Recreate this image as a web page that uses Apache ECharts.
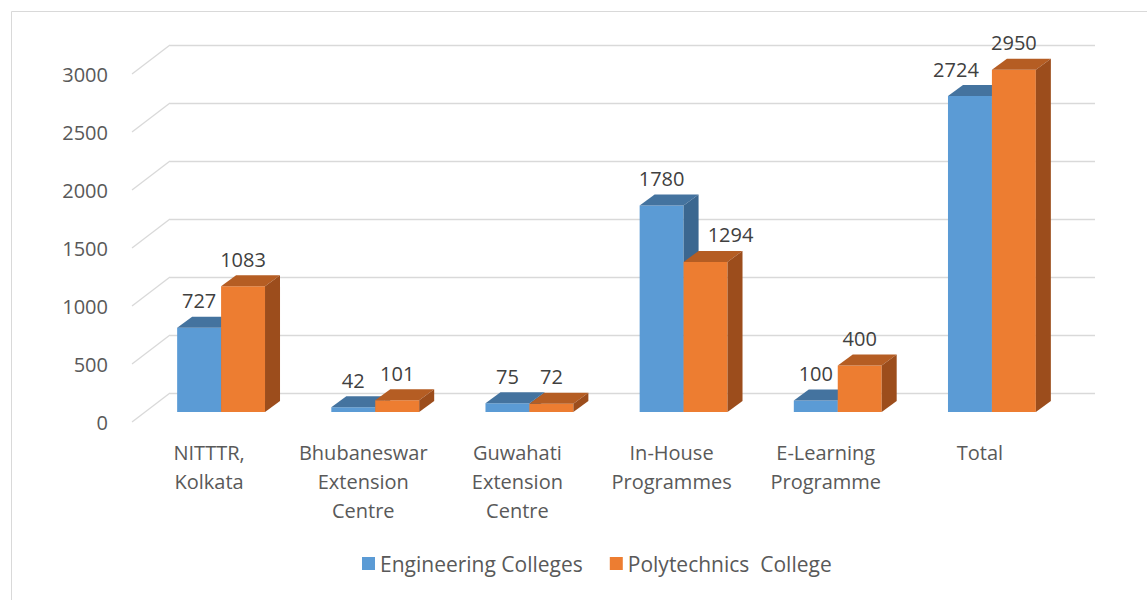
<!DOCTYPE html>
<html>
<head>
<meta charset="utf-8">
<script src="https://cdn.jsdelivr.net/npm/echarts@6/dist/echarts.min.js"></script>
</head>
<body style="margin:0;background:#fff;">
<div id="main" style="width:1147px;height:600px;"></div>
<script type="text/javascript">
    // data
    var categories = ['NITTTR,\nKolkata', 'Bhubaneswar\nExtension\nCentre', 'Guwahati\nExtension\nCentre',
        'In-House\nProgrammes', 'E-Learning\nProgramme', 'Total'];
    var engineering = [727, 42, 75, 1780, 100, 2724];
    var polytechnics = [1083, 101, 72, 1294, 400, 2950];
    var yTicks = [0, 500, 1000, 1500, 2000, 2500, 3000];

    var FONT = '"Open Sans", sans-serif';
    // perspective offsets (px)
    var WALL_DX = 38, WALL_DY = -29;   // front plane -> back wall
    var FACE_DX = 12, FACE_DY = -10;   // front plane -> bar front face
    var DEPTH_DX = 15, DEPTH_DY = -11; // bar depth
    // excel nudged a couple of labels sideways to avoid overlaps
    var labelNudge = {'0-5': -14, '1-3': 25};

    function barRenderer(side, front, top, sideColor) {
        return function (params, api) {
            var i = api.value(0);
            var base = api.coord([i, 0]);
            var tip = api.coord([i, api.value(1)]);
            var band = api.size([1, 0])[0];
            var w = band * 0.285;
            var cx = base[0] + FACE_DX;
            var x1 = side === 0 ? cx - w : cx;
            var x2 = x1 + w;
            var by = base[1] + FACE_DY;
            var ty = tip[1] + FACE_DY;
            var nudge = labelNudge[side + '-' + i] || 0;
            return {
                type: 'group',
                children: [
                    {type: 'rect', shape: {x: x1, y: ty, width: w, height: by - ty}, style: {fill: front}},
                    {type: 'polygon', shape: {points: [[x1, ty], [x2, ty], [x2 + DEPTH_DX, ty + DEPTH_DY], [x1 + DEPTH_DX, ty + DEPTH_DY]]}, style: {fill: top}},
                    {type: 'polygon', shape: {points: [[x2, ty], [x2 + DEPTH_DX, ty + DEPTH_DY], [x2 + DEPTH_DX, by + DEPTH_DY], [x2, by]]}, style: {fill: sideColor}},
                    {type: 'text', x: x1 + w / 2 + nudge, y: ty - 27, style: {
                        text: String(api.value(1)), fill: '#404040', font: '20px ' + FONT,
                        align: 'center', verticalAlign: 'middle'}}
                ]
            };
        };
    }

    var myChart = echarts.init(document.getElementById('main'), null, {renderer: 'svg'});

    var option = {
        backgroundColor: '#fff',
        animation: false,
        graphic: [{
            type: 'rect', left: 9, top: 9, silent: true,
            shape: {width: 1200, height: 640},
            style: {fill: 'none', stroke: '#d9d9d9', lineWidth: 1}
        }],
        legend: {
            left: 357, top: 548,
            itemWidth: 13, itemHeight: 13, itemGap: 27,
            icon: 'rect',
            textStyle: {fontFamily: FONT, fontSize: 21, color: '#595959'},
            data: [
                {name: 'Engineering Colleges', itemStyle: {color: '#5B9BD5'}},
                {name: 'Polytechnics  College', itemStyle: {color: '#ED7D31'}}
            ]
        },
        grid: [
            // back wall
            {left: 170, right: 52, top: 45, bottom: 207},
            // front plane
            {left: 132, right: 90, top: 74, bottom: 178}
        ],
        xAxis: [
            {gridIndex: 0, type: 'category', data: categories, show: false},
            {
                gridIndex: 1, type: 'category', data: categories,
                axisLine: {show: false}, axisTick: {show: false},
                axisLabel: {
                    interval: 0, margin: 16, lineHeight: 29,
                    fontFamily: FONT, fontSize: 20, color: '#595959'
                }
            }
        ],
        yAxis: [
            {
                gridIndex: 0, type: 'value', min: 0, max: 3000, interval: 500,
                axisLabel: {show: false}, axisLine: {show: false}, axisTick: {show: false},
                splitLine: {lineStyle: {color: '#d9d9d9', width: 1.3}}
            },
            {
                gridIndex: 1, type: 'value', min: 0, max: 3000, interval: 500,
                splitLine: {show: false}, axisLine: {show: false}, axisTick: {show: false},
                axisLabel: {
                    margin: 24, fontFamily: FONT, fontSize: 20, color: '#595959',
                    formatter: function (v) { return String(v); }
                }
            }
        ],
        series: [
            {
                // slanted side-wall gridlines
                type: 'custom', xAxisIndex: 1, yAxisIndex: 1, silent: true,
                data: yTicks.map(function (v) { return [0, v]; }),
                renderItem: function (params, api) {
                    var p = api.coord([0, api.value(1)]);
                    var x0 = p[0] - api.size([1, 0])[0] / 2;
                    return {
                        type: 'line',
                        shape: {x1: x0, y1: p[1], x2: x0 + WALL_DX, y2: p[1] + WALL_DY},
                        style: {stroke: '#d9d9d9', lineWidth: 1.3}
                    };
                }
            },
            {
                name: 'Engineering Colleges', type: 'custom', xAxisIndex: 1, yAxisIndex: 1,
                itemStyle: {color: '#5B9BD5'},
                data: engineering.map(function (v, i) { return [i, v]; }),
                renderItem: barRenderer(0, '#5B9BD5', '#44739F', '#3B6790')
            },
            {
                name: 'Polytechnics  College', type: 'custom', xAxisIndex: 1, yAxisIndex: 1,
                itemStyle: {color: '#ED7D31'},
                data: polytechnics.map(function (v, i) { return [i, v]; }),
                renderItem: barRenderer(1, '#ED7D31', '#B55D23', '#9C4D1C')
            }
        ]
    };
    myChart.setOption(option);
</script>
</body>
</html>
